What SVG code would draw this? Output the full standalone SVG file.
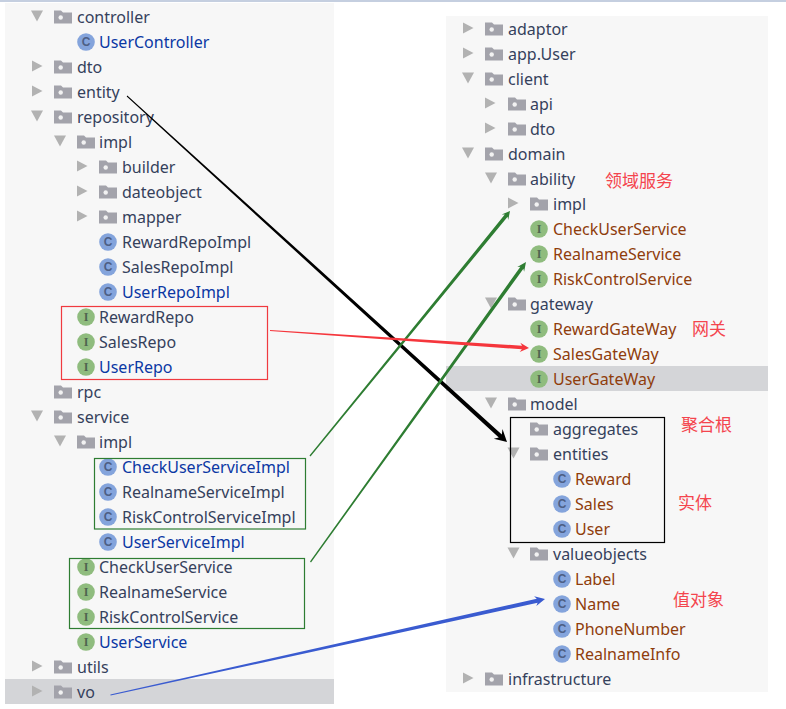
<svg xmlns="http://www.w3.org/2000/svg" xmlns:xlink="http://www.w3.org/1999/xlink" width="786" height="709" viewBox="0 0 786 709">
<style>
text{font-family:"Noto Sans","Noto Sans CJK SC",sans-serif;font-size:16px;fill:#35415c}
.b{fill:#0b38a4}
.r{fill:#8f3d0c}
.ci{font-family:"Liberation Sans",sans-serif;font-size:12px;font-weight:700;fill:#4d5f85;text-anchor:middle}
.ii{font-family:"Liberation Serif",serif;font-size:12px;font-weight:700;fill:#4f6650;text-anchor:middle}
.z{font-family:"Noto Sans CJK SC",sans-serif;font-size:17px;fill:#f4454e}
.box{fill:none;stroke-width:1.2}
</style>
<defs>
<polygon id="tr" points="0,-5.500 10.500,0 0,5.500" fill="#b2b2b2"/>
<polygon id="td" points="-0.500,0 11.500,0 5.500,11" fill="#b2b2b2"/>
<g id="fo"><path d="M0-6.500H7L9-4.500H18V6.500H0Z" fill="#a3a3ab"/><circle cx="6.700" cy="0.500" r="2.200" fill="#f2f2f2"/></g>
<circle id="cc" r="8.800" fill="#84a4dc"/>
<circle id="ic" r="8.800" fill="#8fbc7e"/>
</defs>
<rect x="0" y="0" width="786" height="2" fill="#c5cfe0"/>
<rect x="5" y="3" width="329" height="701" fill="#f7f7f7"/>
<rect x="446" y="16" width="322" height="676" fill="#f7f7f7"/>
<rect x="5" y="679" width="329" height="25" fill="#d4d5d8"/>
<rect x="446" y="366" width="322" height="25" fill="#d4d5d8"/>

<g id="left-tree">
<g id="l-controller"><use href="#td" x="31.500" y="10.500"/><use href="#fo" x="54" y="17"/><text x="77" y="22.500">controller</text></g>
<g id="l-UserController"><use href="#cc" x="86" y="42"/><text class="ci" x="86" y="46.300">C</text><text class="b" x="99" y="47.500">UserController</text></g>
<g id="l-dto"><use href="#tr" x="32" y="66"/><use href="#fo" x="54" y="67"/><text x="77" y="72.500">dto</text></g>
<g id="l-entity"><use href="#tr" x="32" y="91"/><use href="#fo" x="54" y="92"/><text x="77" y="97.500">entity</text></g>
<g id="l-repository"><use href="#td" x="31.500" y="110.500"/><use href="#fo" x="54" y="117"/><text x="77" y="122.500">repository</text></g>
<g id="l-repo-impl"><use href="#td" x="54.500" y="135.500"/><use href="#fo" x="77" y="142"/><text x="99" y="147.500">impl</text></g>
<g id="l-builder"><use href="#tr" x="77" y="166"/><use href="#fo" x="99" y="167"/><text x="122" y="172.500">builder</text></g>
<g id="l-dateobject"><use href="#tr" x="77" y="191"/><use href="#fo" x="99" y="192"/><text x="122" y="197.500">dateobject</text></g>
<g id="l-mapper"><use href="#tr" x="77" y="216"/><use href="#fo" x="99" y="217"/><text x="122" y="222.500">mapper</text></g>
<g id="l-RewardRepoImpl"><use href="#cc" x="108" y="242"/><text class="ci" x="108" y="246.300">C</text><text x="122" y="247.500">RewardRepoImpl</text></g>
<g id="l-SalesRepoImpl"><use href="#cc" x="108" y="267"/><text class="ci" x="108" y="271.300">C</text><text x="122" y="272.500">SalesRepoImpl</text></g>
<g id="l-UserRepoImpl"><use href="#cc" x="108" y="292"/><text class="ci" x="108" y="296.300">C</text><text class="b" x="122" y="297.500">UserRepoImpl</text></g>
<g id="l-RewardRepo"><use href="#ic" x="86" y="317"/><text class="ii" x="86" y="321">I</text><text x="99" y="322.500">RewardRepo</text></g>
<g id="l-SalesRepo"><use href="#ic" x="86" y="342"/><text class="ii" x="86" y="346">I</text><text x="99" y="347.500">SalesRepo</text></g>
<g id="l-UserRepo"><use href="#ic" x="86" y="367"/><text class="ii" x="86" y="371">I</text><text class="b" x="99" y="372.500">UserRepo</text></g>
<g id="l-rpc"><use href="#fo" x="54" y="392"/><text x="77" y="397.500">rpc</text></g>
<g id="l-service"><use href="#td" x="31.500" y="410.500"/><use href="#fo" x="54" y="417"/><text x="77" y="422.500">service</text></g>
<g id="l-service-impl"><use href="#td" x="54.500" y="435.500"/><use href="#fo" x="77" y="442"/><text x="99" y="447.500">impl</text></g>
<g id="l-CheckUserServiceImpl"><use href="#cc" x="108" y="467"/><text class="ci" x="108" y="471.300">C</text><text class="b" x="122" y="472.500">CheckUserServiceImpl</text></g>
<g id="l-RealnameServiceImpl"><use href="#cc" x="108" y="492"/><text class="ci" x="108" y="496.300">C</text><text x="122" y="497.500">RealnameServiceImpl</text></g>
<g id="l-RiskControlServiceImpl"><use href="#cc" x="108" y="517"/><text class="ci" x="108" y="521.300">C</text><text x="122" y="522.500">RiskControlServiceImpl</text></g>
<g id="l-UserServiceImpl"><use href="#cc" x="108" y="542"/><text class="ci" x="108" y="546.300">C</text><text class="b" x="122" y="547.500">UserServiceImpl</text></g>
<g id="l-CheckUserService"><use href="#ic" x="86" y="567"/><text class="ii" x="86" y="571">I</text><text x="99" y="572.500">CheckUserService</text></g>
<g id="l-RealnameService"><use href="#ic" x="86" y="592"/><text class="ii" x="86" y="596">I</text><text x="99" y="597.500">RealnameService</text></g>
<g id="l-RiskControlService"><use href="#ic" x="86" y="617"/><text class="ii" x="86" y="621">I</text><text x="99" y="622.500">RiskControlService</text></g>
<g id="l-UserService"><use href="#ic" x="86" y="642"/><text class="ii" x="86" y="646">I</text><text class="b" x="99" y="647.500">UserService</text></g>
<g id="l-utils"><use href="#tr" x="32" y="666"/><use href="#fo" x="54" y="667"/><text x="77" y="672.500">utils</text></g>
<g id="l-vo"><use href="#tr" x="32" y="691"/><use href="#fo" x="54" y="692"/><text x="77" y="697.500">vo</text></g>
</g>

<g id="right-tree">
<g id="r-adaptor"><use href="#tr" x="463" y="28"/><use href="#fo" x="485" y="29"/><text x="508" y="34.500">adaptor</text></g>
<g id="r-app-User"><use href="#tr" x="463" y="53"/><use href="#fo" x="485" y="54"/><text x="508" y="59.500">app.User</text></g>
<g id="r-client"><use href="#td" x="462.500" y="72.500"/><use href="#fo" x="485" y="79"/><text x="508" y="84.500">client</text></g>
<g id="r-api"><use href="#tr" x="485" y="103"/><use href="#fo" x="508" y="104"/><text x="530" y="109.500">api</text></g>
<g id="r-dto"><use href="#tr" x="485" y="128"/><use href="#fo" x="508" y="129"/><text x="530" y="134.500">dto</text></g>
<g id="r-domain"><use href="#td" x="462.500" y="147.500"/><use href="#fo" x="485" y="154"/><text x="508" y="159.500">domain</text></g>
<g id="r-ability"><use href="#td" x="485.500" y="172.500"/><use href="#fo" x="508" y="179"/><text x="530" y="184.500">ability</text></g>
<g id="r-impl"><use href="#tr" x="508" y="203"/><use href="#fo" x="530" y="204"/><text x="553" y="209.500">impl</text></g>
<g id="r-CheckUserService"><use href="#ic" x="539" y="229"/><text class="ii" x="539" y="233">I</text><text class="r" x="553" y="234.500">CheckUserService</text></g>
<g id="r-RealnameService"><use href="#ic" x="539" y="254"/><text class="ii" x="539" y="258">I</text><text class="r" x="553" y="259.500">RealnameService</text></g>
<g id="r-RiskControlService"><use href="#ic" x="539" y="279"/><text class="ii" x="539" y="283">I</text><text class="r" x="553" y="284.500">RiskControlService</text></g>
<g id="r-gateway"><use href="#td" x="485.500" y="297.500"/><use href="#fo" x="508" y="304"/><text x="530" y="309.500">gateway</text></g>
<g id="r-RewardGateWay"><use href="#ic" x="539" y="329"/><text class="ii" x="539" y="333">I</text><text class="r" x="553" y="334.500">RewardGateWay</text></g>
<g id="r-SalesGateWay"><use href="#ic" x="539" y="354"/><text class="ii" x="539" y="358">I</text><text class="r" x="553" y="359.500">SalesGateWay</text></g>
<g id="r-UserGateWay"><use href="#ic" x="539" y="379"/><text class="ii" x="539" y="383">I</text><text class="r" x="553" y="384.500">UserGateWay</text></g>
<g id="r-model"><use href="#td" x="485.500" y="397.500"/><use href="#fo" x="508" y="404"/><text x="530" y="409.500">model</text></g>
<g id="r-aggregates"><use href="#fo" x="530" y="429"/><text x="553" y="434.500">aggregates</text></g>
<g id="r-entities"><use href="#td" x="508" y="447.500"/><use href="#fo" x="530" y="454"/><text x="553" y="459.500">entities</text></g>
<g id="r-Reward"><use href="#cc" x="562" y="479"/><text class="ci" x="562" y="483.300">C</text><text class="r" x="575" y="484.500">Reward</text></g>
<g id="r-Sales"><use href="#cc" x="562" y="504"/><text class="ci" x="562" y="508.300">C</text><text class="r" x="575" y="509.500">Sales</text></g>
<g id="r-User"><use href="#cc" x="562" y="529"/><text class="ci" x="562" y="533.300">C</text><text class="r" x="575" y="534.500">User</text></g>
<g id="r-valueobjects"><use href="#td" x="508" y="547.500"/><use href="#fo" x="530" y="554"/><text x="553" y="559.500">valueobjects</text></g>
<g id="r-Label"><use href="#cc" x="562" y="579"/><text class="ci" x="562" y="583.300">C</text><text class="r" x="575" y="584.500">Label</text></g>
<g id="r-Name"><use href="#cc" x="562" y="604"/><text class="ci" x="562" y="608.300">C</text><text class="r" x="575" y="609.500">Name</text></g>
<g id="r-PhoneNumber"><use href="#cc" x="562" y="629"/><text class="ci" x="562" y="633.300">C</text><text class="r" x="575" y="634.500">PhoneNumber</text></g>
<g id="r-RealnameInfo"><use href="#cc" x="562" y="654"/><text class="ci" x="562" y="658.300">C</text><text class="r" x="575" y="659.500">RealnameInfo</text></g>
<g id="r-infrastructure"><use href="#tr" x="463" y="678"/><use href="#fo" x="485" y="679"/><text x="508" y="684.500">infrastructure</text></g>
</g>

<g id="annotations">
<rect id="box-repo" class="box" x="61.500" y="306.500" width="206" height="73" stroke="#f03a3f"/>
<rect id="box-impl" class="box" x="94.500" y="458.500" width="211" height="70.500" stroke="#2e7d32"/>
<rect id="box-service" class="box" x="69.500" y="558.500" width="235" height="70" stroke="#2e7d32"/>
<rect id="box-model" class="box" x="510.500" y="417.500" width="154" height="125" stroke="#000"/>
<text class="z" x="605" y="187">领域服务</text>
<text class="z" x="692" y="335">网关</text>
<text class="z" x="681" y="431">聚合根</text>
<text class="z" x="678" y="509">实体</text>
<text class="z" x="673" y="606">值对象</text>
</g>

<g id="connectors">
<polygon id="c-entity" fill="#000" points="126.700,96.400 498.800,437.600 493.800,438.700 507,442 502.500,429.100 501.800,434.400 127.300,95.600"/>
<polygon id="c-impl" fill="#2e7d32" points="310.500,456.400 507.600,216.800 508.200,219.900 510,211 501.700,214.600 504.800,214.600 309.500,455.600"/>
<polygon id="c-service" fill="#2e7d32" points="311,562.400 523.400,268.800 524.100,271.800 526,262 517.300,266.900 520.400,266.700 310,561.600"/>
<polygon id="c-repo" fill="#f5363c" points="270,331 521.900,349.300 519.700,352.100 529,348 520.300,342.700 522.100,345.700 270,330"/>
<polygon id="c-vo" fill="#3a5bd0" points="110.600,695.600 537.600,602.700 536.300,606.100 545,599 534.100,596.300 536.800,598.800 110.400,694.400"/>
</g>
</svg>
